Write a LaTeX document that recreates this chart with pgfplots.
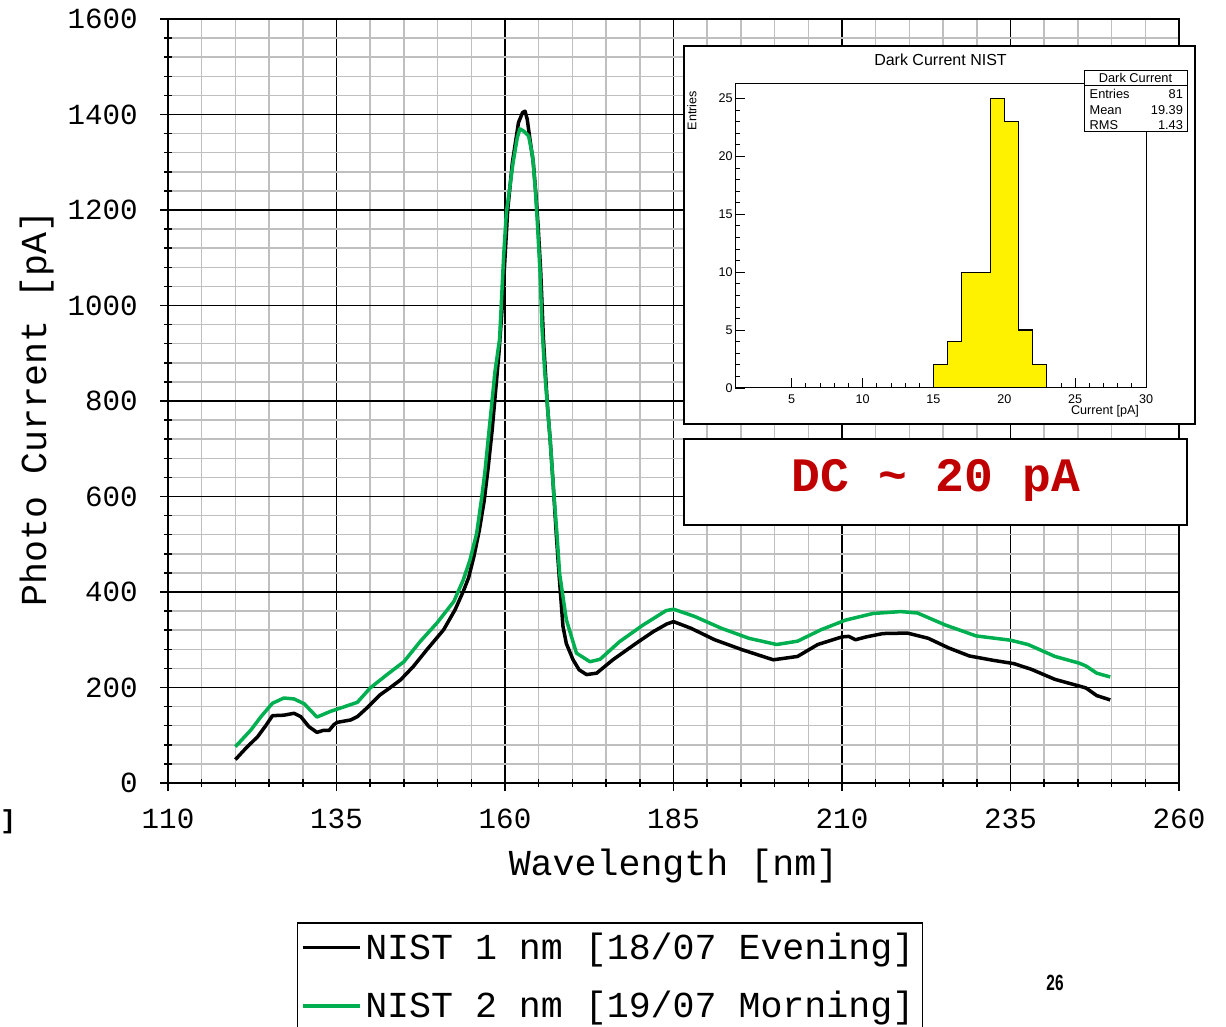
\documentclass[border=0pt]{standalone}
\usepackage{fontspec}
\setmainfont{Liberation Mono}
\newfontfamily\sansf{Liberation Sans}
\usepackage{pgfplots}
\pgfplotsset{compat=1.18}
\definecolor{cgreen}{RGB}{0,176,80}
\definecolor{cgrid}{RGB}{191,191,191}
\definecolor{dcred}{RGB}{192,0,0}
\begin{document}
\begin{tikzpicture}
\useasboundingbox (0,0) rectangle (613pt,513.5pt);
\clip (0,0) rectangle (613pt,513.5pt);
\begin{axis}[
  scale only axis, width=505.5pt, height=382pt,
  at={(84pt,122pt)}, anchor=south west,
  xmin=110, xmax=260, ymin=0, ymax=1600,
  xtick={110,135,...,260}, ytick={0,200,...,1600},
  minor x tick num=4, minor y tick num=4,
  grid=both,
  major grid style={black, line width=0.75pt},
  minor grid style={cgrid, line width=0.75pt},
  axis line style={line width=1pt},
  tick pos=left, tick align=center,
  major tick length=8pt, minor tick length=4pt,
  every tick/.style={black, line width=0.75pt},
  /pgf/number format/assume math mode=true,
  /pgf/number format/1000 sep={},
  ticklabel style={font=\fontsize{14.6}{14.6}\selectfont},
  yticklabel style={anchor=east, inner sep=0pt, xshift=-11pt},
  xticklabel style={anchor=center, inner sep=0pt, yshift=-14pt},
  xlabel={Wavelength [nm]}, ylabel={Photo Current [pA]},
  label style={font=\fontsize{18.3}{18.3}\selectfont},
  xlabel style={at={(axis description cs:0.5,-0.1086)}, anchor=center},
  ylabel style={at={(axis description cs:-0.130,0.49)}, anchor=center},
  legend style={at={(axis description cs:0.1276,-0.182)}, anchor=north west,
    draw=black, line width=0.75pt, font=\fontsize{18.3}{18.3}\selectfont,
    inner xsep=2pt, inner ysep=3pt, row sep=10.5pt, cells={anchor=west}},
  legend image code/.code={\draw[#1] (0pt,0pt) -- (28pt,0pt);},
]
\addplot[black, line width=1.75pt, line join=round] coordinates {
(120,49) (121.5,72) (123.3,97) (124.5,120) (125.5,141) (127.2,142) (128.7,146)
(129.7,139) (130.9,118) (132.1,106) (133.0,110) (133.9,110) (134.6,122) (135.1,127)
(137.1,132) (138.1,139) (139.5,157) (141.5,185) (143,200) (144.5,216) (146.4,244)
(148.4,279) (150.9,321) (152.6,363) (153.8,401) (154.6,430) (155.4,475) (156.2,530)
(156.9,590) (157.5,660) (158.1,740) (158.6,820) (159.1,900) (159.6,1000) (160.0,1100)
(160.4,1200) (161.1,1300) (162.0,1383) (162.6,1404) (162.97,1407) (163.3,1390)
(163.7,1348) (164.2,1299) (164.6,1230) (164.9,1170) (165.3,1070) (165.7,930)
(166.3,789) (166.7,719) (167.2,614) (167.6,523) (168.0,440) (168.6,328) (169.1,292)
(170.1,258) (171,237) (172.1,227) (173.6,230) (176.0,258) (179.5,293) (182.0,317)
(184,333) (185.0,338) (187.6,324) (191.1,300) (195.2,279) (199.8,258) (203.4,265)
(206.4,290) (210.0,306) (211.0,307) (212.0,300) (213.6,306) (216.1,313) (219.7,314)
(222.8,303) (225.8,283) (228.9,266) (232.4,257) (235.5,250) (238.1,238) (241.6,217)
(245.2,203) (246.2,199) (247.8,183) (249.8,174)
};
\addlegendentry{NIST 1 nm [18/07 Evening]}
\addplot[cgreen, line width=1.75pt, line join=round] coordinates {
(120.0,76) (122.3,111) (123.8,139) (125.5,167) (127.2,178) (128.7,176) (130.2,166)
(132.1,138) (134.1,150) (135.6,157) (138.1,169) (140.0,199) (142.5,227) (145.0,254)
(147.4,296) (149.9,335) (152.4,380) (153.8,425) (154.8,467) (155.8,523) (156.5,593)
(157.0,649) (157.5,719) (158.0,789) (158.5,860) (159.2,930) (159.8,1104) (160.2,1194)
(161.2,1299) (161.8,1350) (162.2,1370) (162.8,1365) (163.5,1355) (164.1,1313) (164.5,1243)
(164.8,1174) (165.2,1069) (165.5,950) (165.9,860) (166.3,789) (166.7,719) (167.2,614)
(167.7,523) (168.1,439) (169.1,342) (170.6,272) (172.6,254) (174.1,259) (177.0,296)
(180.5,331) (183.9,361) (185.0,364) (188.1,349) (192.1,324) (196.2,303) (200.3,290)
(203.4,297) (206.9,321) (210.5,341) (214.6,355) (218.7,359) (221.2,356) (225.3,331)
(229.9,308) (235.0,299) (237.6,290) (241.6,265) (245.2,251) (246.2,245) (247.8,230)
(249.8,222)
};
\addlegendentry{NIST 2 nm [19/07 Morning]}
\end{axis}
% inset frame and DC box
\filldraw[fill=white, draw=black, line width=0.75pt] (342pt,301.5pt) rectangle (597.5pt,490.5pt);
\filldraw[fill=white, draw=black, line width=0.75pt] (342pt,251pt) rectangle (593.5pt,294pt);
\node[font=\bfseries\fontsize{24}{24}\selectfont, text=dcred] at (468pt,273.5pt) {DC {\char"7E} 20 pA};
\begin{axis}[
  scale only axis, width=205.5pt, height=152pt,
  at={(367.5pt,319.5pt)}, anchor=south west,
  xmin=1, xmax=30, ymin=0, ymax=26.25,
  xtick={5,10,...,30}, ytick={0,5,...,25},
  minor x tick num=4, minor y tick num=4,
  tick align=inside, tick pos=left,
  major tick length=5pt, minor tick length=2.5pt,
  every tick/.style={black, line width=0.4pt},
  axis line style={line width=0.5pt},
  /pgf/number format/assume math mode=true,
  ticklabel style={font=\sansf\fontsize{6.3}{6.3}\selectfont},
  yticklabel style={inner sep=1pt},
  xlabel={Current [pA]}, ylabel={Entries},
  label style={font=\sansf\fontsize{6.3}{6.3}\selectfont},
  xlabel style={at={(axis description cs:1,0)}, anchor=north east, yshift=-5pt},
  ylabel style={at={(axis description cs:-0.105,1)}, anchor=east},
  title={Dark Current NIST},
  title style={at={(axis description cs:0.5,1)}, anchor=center, yshift=6pt, font=\sansf\fontsize{8}{8}\selectfont},
]
\addplot[fill=yellow, draw=black, line width=0.6pt] coordinates {
(15,0) (15,2) (16,2) (16,4) (17,4) (17,10) (19,10) (19,25) (20,25) (20,23)
(21,23) (21,5) (22,5) (22,2) (23,2) (23,0)
} -- cycle;
\end{axis}
% stats box
\filldraw[fill=white, draw=black, line width=0.5pt] (542pt,447.5pt) rectangle (593.5pt,478pt);
\draw[line width=0.5pt] (542pt,470.65pt) -- (593.5pt,470.65pt);
\begin{scope}[font=\sansf\fontsize{6.4}{6.4}\selectfont, inner sep=0pt]
\node at (567.75pt,474.3pt) {Dark Current};
\node[anchor=west] at (544.65pt,466.5pt) {Entries};
\node[anchor=east] at (591.65pt,466.5pt) {81};
\node[anchor=west] at (544.65pt,458.65pt) {Mean};
\node[anchor=east] at (591.65pt,458.65pt) {19.39};
\node[anchor=west] at (544.65pt,451.15pt) {RMS};
\node[anchor=east] at (591.65pt,451.15pt) {1.43};
\end{scope}
\node[font=\sansf\bfseries\fontsize{11}{11}\selectfont, xscale=0.7] at (527.5pt,22pt) {26};
\node[font=\bfseries\fontsize{13}{13}\selectfont, anchor=west, inner sep=0pt] at (0pt,102.5pt) {]};
\end{tikzpicture}
\end{document}
